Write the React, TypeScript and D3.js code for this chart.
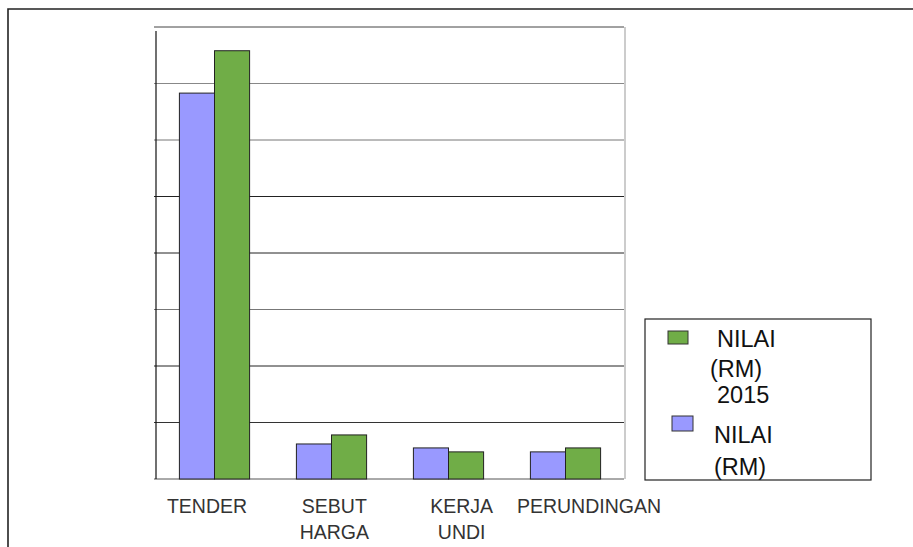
import React from "react";
import * as d3 from "d3";

// values in grid units (chart has no tick labels)
const categories = ["TENDER", "SEBUT HARGA", "KERJA UNDI", "PERUNDINGAN"];
const categoryLines = [["TENDER"], ["SEBUT", "HARGA"], ["KERJA", "UNDI"], ["PERUNDINGAN"]];
const seriesKeys = ["prev", "y2015"];
const valuesPrev = [6.83, 0.62, 0.55, 0.48];
const values2015 = [7.58, 0.78, 0.48, 0.55];
const yTicks = [0, 1, 2, 3, 4, 5, 6, 7, 8];
const legendGreen = ["NILAI", "(RM)", "2015"];
const legendBlue = ["NILAI", "(RM)"];

const W = 913;
const H = 547;
const margin = { left: 156, right: 289, top: 27, bottom: 68 };
const colors: Record<string, string> = { prev: "#9999ff", y2015: "#70ad47" };
const gridColors = ["#555", "#333", "#222", "#777", "#222", "#222", "#777", "#888", "#444"];
const font = "'Liberation Sans', Arial, sans-serif";

const App = () => {
  const x0 = d3
    .scaleBand<string>()
    .domain(categories)
    .range([margin.left, W - margin.right])
    .paddingInner(0.4)
    .paddingOuter(0.2);
  const x1 = d3.scaleBand<string>().domain(seriesKeys).range([0, x0.bandwidth()]);
  const y = d3.scaleLinear().domain([0, 8]).range([H - margin.bottom, margin.top]);
  const labelX = d3
    .scalePoint<string>()
    .domain(categories)
    .range([margin.left + 51, W - margin.right - 35]);

  const rows = categories.map((c, i) => ({ cat: c, prev: valuesPrev[i], y2015: values2015[i] }));
  const plotRight = W - margin.right;

  return (
    <svg width={W} height={H} style={{ position: "absolute", left: 0, top: 0, background: "#fff" }}>
      {/* outer frame */}
      <path d={`M8,${H} L8,9 L${W},9`} fill="none" stroke="#222" strokeWidth={1.6} />

      {/* gridlines */}
      {yTicks.map((t, i) => (
        <line
          key={t}
          x1={margin.left - 2}
          x2={plotRight}
          y1={y(t)}
          y2={y(t)}
          stroke={gridColors[i]}
          strokeWidth={1}
        />
      ))}
      <line x1={plotRight + 1} x2={plotRight + 1} y1={y(8)} y2={y(0)} stroke="#aaa" strokeWidth={1.2} />
      <line x1={margin.left} x2={margin.left} y1={y(8) + 4} y2={y(0)} stroke="#111" strokeWidth={1.2} />

      {/* bars */}
      {rows.map((r) => (
        <g key={r.cat} transform={`translate(${x0(r.cat)},0)`}>
          {seriesKeys.map((k) => (
            <rect
              key={k}
              x={x1(k)}
              y={y((r as any)[k])}
              width={x1.bandwidth()}
              height={y(0) - y((r as any)[k])}
              fill={colors[k]}
              stroke="#222"
              strokeWidth={1}
            />
          ))}
        </g>
      ))}

      {/* category labels */}
      {categories.map((c, i) => (
        <text
          key={c}
          x={labelX(c)}
          y={513}
          textAnchor="middle"
          fontFamily={font}
          fontSize={19.5}
          fill="#333"
        >
          {categoryLines[i].map((line, j) => (
            <tspan key={j} x={labelX(c)} dy={j === 0 ? 0 : 26}>
              {line}
            </tspan>
          ))}
        </text>
      ))}

      {/* legend */}
      <rect x={645} y={319} width={226} height={161} fill="#fff" stroke="#222" strokeWidth={1.2} />
      <rect x={668} y={331} width={20} height={13} fill={colors.y2015} stroke="#333" strokeWidth={1} />
      <text fontFamily={font} fontSize={23.5} fill="#111">
        <tspan x={717} y={347}>{legendGreen[0]}</tspan>
        <tspan x={710} y={377}>{legendGreen[1]}</tspan>
        <tspan x={717} y={403}>{legendGreen[2]}</tspan>
      </text>
      <rect x={672} y={416} width={21} height={15} fill={colors.prev} stroke="#333" strokeWidth={1} />
      <text fontFamily={font} fontSize={23.5} fill="#111">
        <tspan x={714} y={443}>{legendBlue[0]}</tspan>
        <tspan x={714} y={475}>{legendBlue[1]}</tspan>
      </text>
    </svg>
  );
};

export default App;
